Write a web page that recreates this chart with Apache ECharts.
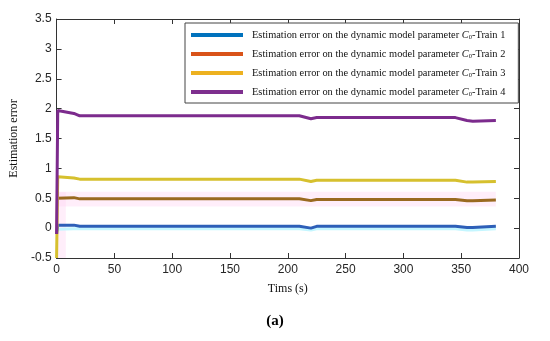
<!DOCTYPE html>
<html>
<head>
<meta charset="utf-8">
<script src="https://cdn.jsdelivr.net/npm/echarts@6/dist/echarts.min.js"></script>
<style>html,body{margin:0;padding:0;background:#fff}#c{width:550px;height:341px}</style>
</head>
<body>
<div id="c"></div>
<script>
// ---- data ----
const timeX = [0, 1, 15, 20, 210, 220, 225, 345, 355, 360, 380];
const train1 = [-0.1, 0.05, 0.05, 0.03, 0.03, 0.00, 0.03, 0.03, 0.01, 0.01, 0.03];
const train2 = [0.50, 0.52, 0.51, 0.49, 0.49, 0.46, 0.48, 0.48, 0.46, 0.46, 0.47];
const train3 = [-0.5, 0.86, 0.84, 0.82, 0.82, 0.78, 0.80, 0.80, 0.77, 0.77, 0.78];
const train4 = [-0.1, 1.97, 1.92, 1.88, 1.88, 1.83, 1.85, 1.85, 1.80, 1.79, 1.80];
const band1 = [-0.02, -0.01, -0.01, -0.01, -0.01, -0.03, -0.01, -0.01, -0.03, -0.03, -0.01];
const seriesNames = ['Train 1', 'Train 2', 'Train 3', 'Train 4'];
const xTicks = [0, 50, 100, 150, 200, 250, 300, 350, 400];
const yTicks = [-0.5, 0, 0.5, 1, 1.5, 2, 2.5, 3, 3.5];
const pinkBand = { x: [0, 380], y: [0.36, 0.61] };
const pinkStrip = { x: [0, 8], y: [-0.5, 0.6] };

const lineColors = ['#2d5fb8', '#9a6a20', '#d6c02e', '#7c2b8d'];
const legendColors = ['#0072BD', '#D95319', '#EDB120', '#7E2F8E'];
const values = [train1, train2, train3, train4];

const pairs = arr => timeX.map((x, i) => [x, arr[i]]);

const axisColor = '#333';
const series = [
  {
    name: 'band', type: 'line', data: pairs(band1), symbol: 'none', silent: true,
    lineStyle: { color: '#c4f6ff', width: 3 }, z: 1,
    markArea: {
      silent: true,
      itemStyle: { color: 'rgba(255,205,240,0.35)' },
      data: [
        [{ coord: [pinkBand.x[0], pinkBand.y[0]] }, { coord: [pinkBand.x[1], pinkBand.y[1]] }],
        [{ coord: [pinkStrip.x[0], pinkStrip.y[0]] }, { coord: [pinkStrip.x[1], pinkStrip.y[1]] }]
      ]
    }
  }
];
values.forEach((v, i) => {
  series.push({
    name: seriesNames[i], type: 'line', data: pairs(v), symbol: 'none',
    lineStyle: { color: lineColors[i], width: 3 }, itemStyle: { color: lineColors[i] },
    z: 2 + i
  });
});
// invisible anchors so that the mirrored (top/right) axes render
series.push({ type: 'line', xAxisIndex: 1, yAxisIndex: 1, data: [], silent: true });

const chart = echarts.init(document.getElementById('c'), null, { renderer: 'canvas' });
chart.setOption({
  animation: false,
  backgroundColor: '#fff',
  grid: { left: 53, right: 31, top: 19, bottom: 83 },
  title: {
    text: '(a)', left: 'center', top: 309,
    textStyle: { fontFamily: 'Liberation Serif', fontWeight: 'bold', fontSize: 15, color: '#000' }
  },
  legend: {
    orient: 'vertical', left: 185, top: 23,
    backgroundColor: '#fff', borderColor: '#444', borderWidth: 1,
    padding: [6, 13, 5, 6], itemGap: 7, itemWidth: 52, itemHeight: 4,
    icon: 'rect',
    data: seriesNames.map((n, i) => ({ name: n, itemStyle: { color: legendColors[i] } })),
    formatter: n => 'Estimation error on the dynamic model parameter {i|C}{s|0}-' + n,
    textStyle: {
      fontFamily: 'Liberation Serif', fontSize: 10.4, color: '#111', padding: [0, 0, 0, 4],
      lineHeight: 12,
      rich: {
        i: { fontFamily: 'Liberation Serif', fontStyle: 'italic', fontSize: 10.4, color: '#111', lineHeight: 12 },
        s: { fontFamily: 'Liberation Serif', fontSize: 6.5, color: '#111', verticalAlign: 'bottom', padding: [4, 0, 0, 0], lineHeight: 12 }
      }
    },
    z: 10
  },
  xAxis: [
    {
      type: 'value', min: 0, max: 400, interval: 50,
      name: 'Tims (s)', nameLocation: 'middle', nameGap: 25,
      nameTextStyle: { fontFamily: 'Liberation Serif', fontSize: 12, color: '#111' },
      axisLine: { show: true, onZero: false, lineStyle: { color: axisColor } },
      axisTick: { show: true, inside: true, length: 5, lineStyle: { color: axisColor } },
      axisLabel: { fontFamily: 'Liberation Sans', fontSize: 12, color: '#262626', margin: 6,
        formatter: v => xTicks.includes(v) ? String(v) : '' },
      splitLine: { show: false }
    },
    {
      type: 'value', position: 'top', min: 0, max: 400, interval: 50,
      axisLine: { show: true, onZero: false, lineStyle: { color: axisColor } },
      axisTick: { show: true, inside: true, length: 5, lineStyle: { color: axisColor } },
      axisLabel: { show: false }, splitLine: { show: false }
    }
  ],
  yAxis: [
    {
      type: 'value', min: -0.5, max: 3.5, interval: 0.5,
      name: 'Estimation error', nameLocation: 'middle', nameGap: 30,
      nameTextStyle: { fontFamily: 'Liberation Serif', fontSize: 12, color: '#111' },
      axisLine: { show: true, onZero: false, lineStyle: { color: axisColor } },
      axisTick: { show: true, inside: true, length: 5, lineStyle: { color: axisColor } },
      axisLabel: { fontFamily: 'Liberation Sans', fontSize: 12, color: '#262626', margin: 5,
        formatter: v => { const t = yTicks.find(y => Math.abs(y - v) < 1e-9); return t === undefined ? '' : String(t); } },
      splitLine: { show: false }
    },
    {
      type: 'value', position: 'right', min: -0.5, max: 3.5, interval: 0.5,
      axisLine: { show: true, onZero: false, lineStyle: { color: axisColor } },
      axisTick: { show: true, inside: true, length: 5, lineStyle: { color: axisColor } },
      axisLabel: { show: false }, splitLine: { show: false }
    }
  ],
  series: series
});
</script>
</body>
</html>
